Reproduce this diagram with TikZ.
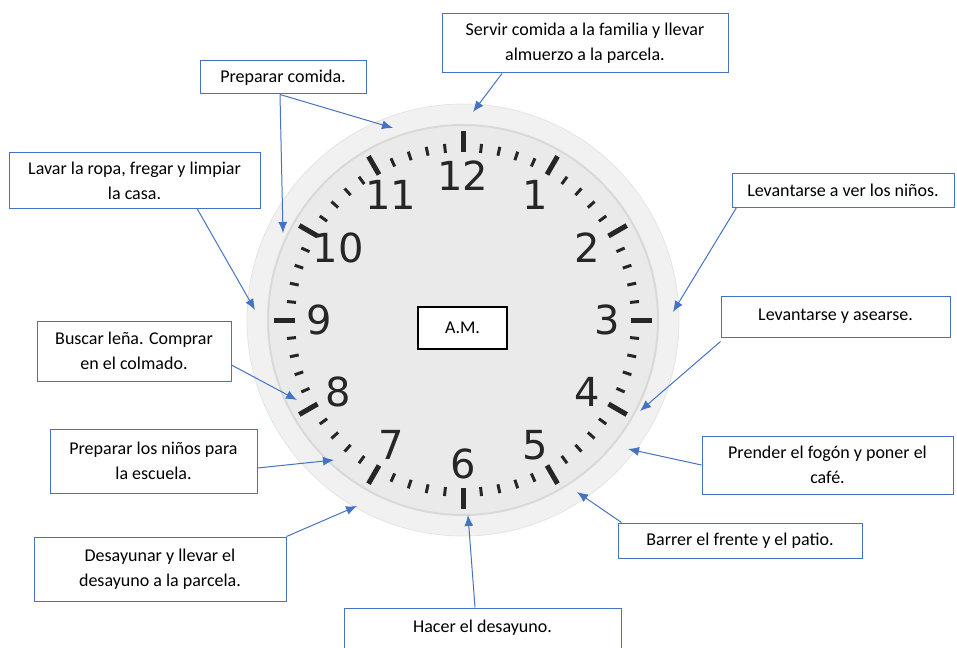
\documentclass[tikz,border=0pt]{standalone}
\usepackage{fontspec}
\setmainfont{Carlito}
\newfontfamily\dialfont{DejaVu Sans}
\usepackage{tikz}
\usetikzlibrary{arrows.meta,positioning}
\definecolor{boxblue}{RGB}{68, 114, 196}
\definecolor{ringgray}{RGB}{241, 241, 241}
\definecolor{facegray}{RGB}{234, 234, 234}
\tikzstyle{task} = [rectangle, draw=boxblue, line width=1pt, fill=white, text=black, align=center, inner sep=0pt, font=\fontsize{18}{25}\selectfont]
\tikzstyle{ambox} = [rectangle, draw=black, line width=1.2pt, fill=white, text=black, inner sep=0pt, minimum width=89pt, minimum height=42pt, font=\fontsize{18}{25}\selectfont]
\tikzstyle{num} = [text=black!85, inner sep=0pt, font=\dialfont\fontsize{40}{40}\selectfont]
\tikzstyle{tedge}  = [draw=boxblue, line width=1pt, -{Latex[length=11pt,width=9pt]}]

\begin{document}
\begin{tikzpicture}[x=1pt, y=-1pt]
\useasboundingbox (0,0) rectangle (957,647);
\clip (0,0) rectangle (957,647);

% clock ==================================

\coordinate (ctr) at (463,320);
\fill[ringgray] (ctr) circle (216pt);
\draw[gray!20, line width=0.8pt] (ctr) circle (216pt);
\fill[facegray] (ctr) circle (195pt);
\draw[gray!30, line width=2pt] (ctr) circle (195pt);

\begin{scope}[shift={(ctr)}]
% hour and minute ticks
\foreach \h in {0,...,11} {
  \draw[black!85, line width=5pt] ({90-30*\h}:168pt) -- ({90-30*\h}:189pt);
  \foreach \k in {1,...,4}
    \draw[black!85, line width=3pt] ({90-30*\h-6*\k}:168pt) -- ({90-30*\h-6*\k}:177pt);
}
% numbers
\foreach \n in {1,...,12}
  \node[num] (n\n) at ({90-30*\n}:144pt) {\n};
\end{scope}

\node[ambox] (am) at (462.5,328) {A.M.};

% tasks ==================================

\node[task, minimum width=286pt, minimum height=59pt] (servir) at (585,43.5) {Servir comida a la familia y llevar\\almuerzo a la parcela.};
\node[task, minimum width=166pt, minimum height=33pt] (comida) at (283,77.5) {Preparar comida.};
\node[task, minimum width=251pt, minimum height=55pt] (lavar) at (134.5,180.5) {Lavar la ropa, fregar y limpiar\\la casa.};
\node[task, minimum width=222pt, minimum height=34pt] (vernin) at (843,190) {Levantarse a ver los niños.};
\node[task, minimum width=229pt, minimum height=41pt] (asear) at (835.5,316.5) {Levantarse y asearse.};
\node[task, minimum width=194pt, minimum height=60pt] (lena) at (134,351) {Buscar leña. Comprar\\en el colmado.};
\node[task, minimum width=207pt, minimum height=64pt] (escuela) at (153.5,461) {Preparar los niños para\\la escuela.};
\node[task, minimum width=251pt, minimum height=58pt] (fogon) at (827.5,465) {Prender el fogón y poner el\\café.};
\node[task, minimum width=244pt, minimum height=35pt] (barrer) at (740,540.5) {Barrer el frente y el patio.};
\node[task, minimum width=252pt, minimum height=64pt] (desay) at (160,569) {Desayunar y llevar el\\desayuno a la parcela.};
\node[task, minimum width=277pt, minimum height=40pt] (hacer) at (482.5,628) {Hacer el desayuno.};

% arrow ends on the clock
\coordinate (tServir) at (473,112);
\coordinate (tComidaA) at (393,128);
\coordinate (tComidaB) at (283,233);
\coordinate (tLavar) at (255,310);
\coordinate (tVernin) at (673,312);
\coordinate (tAsear) at (640,411);
\coordinate (tLena) at (297,400);
\coordinate (tEscuela) at (334,460);
\coordinate (tFogon) at (628,449);
\coordinate (tBarrer) at (577,492);
\coordinate (tDesay) at (357,506);
\coordinate (tHacer) at (468,515);

%edges
\path[tedge] ([xshift=-83pt]servir.south) -- (tServir);
\path[tedge] ([xshift=-3pt]comida.south) -- (tComidaA);
\path[tedge] ([xshift=-3pt]comida.south) -- (tComidaB);
\path[tedge] ([xshift=62.5pt]lavar.south) -- (tLavar);
\path[tedge] ([xshift=5pt]vernin.south west) -- (tVernin);
\path[tedge] ([yshift=-4pt]asear.south west) -- (tAsear);
\path[tedge] ([yshift=-14pt]lena.east) -- (tLena);
\path[tedge] ([yshift=-7pt]escuela.east) -- (tEscuela);
\path[tedge] (fogon.west) -- (tFogon);
\path[tedge] ([xshift=4pt]barrer.north west) -- (tBarrer);
\path[tedge] (desay.north east) -- (tDesay);
\path[tedge] ([xshift=-7.5pt]hacer.north) -- (tHacer);

\end{tikzpicture}
\end{document}
